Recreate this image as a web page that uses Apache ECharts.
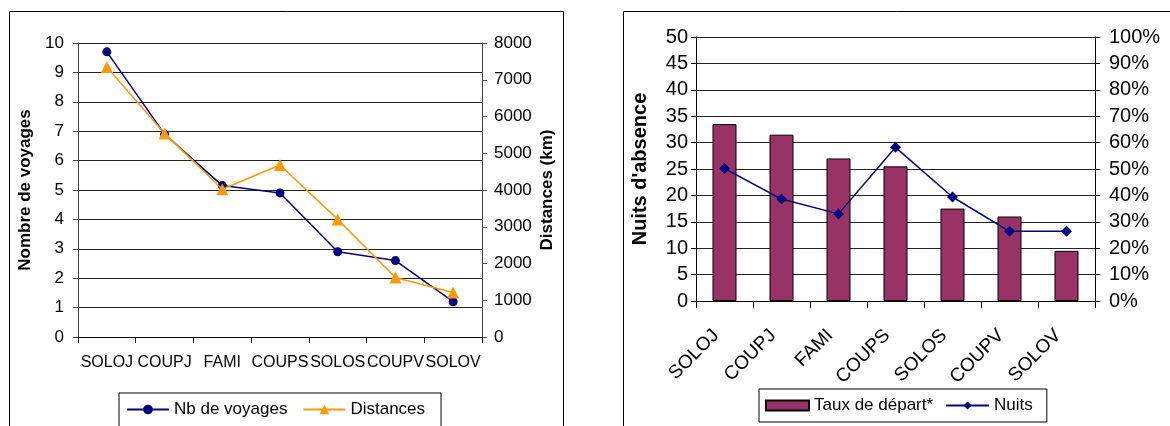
<!DOCTYPE html>
<html>
<head>
<meta charset="utf-8">
<script src="https://cdn.jsdelivr.net/npm/echarts@6/dist/echarts.min.js"></script>
<style>
html,body{margin:0;padding:0;background:#fff;}
#chart{width:1170px;height:426px;}
</style>
</head>
<body>
<div id="chart"></div>
<script>
// ---- Data ----
var categories = ['SOLOJ', 'COUPJ', 'FAMI', 'COUPS', 'SOLOS', 'COUPV', 'SOLOV'];
var nbVoyages = [9.7, 6.9, 5.15, 4.9, 2.9, 2.6, 1.2];
var distances = [7350, 5540, 4020, 4680, 3200, 1620, 1210];
var tauxDepart = [67, 63, 54, 51, 35, 32, 19];
var nuits = [25.1, 19.3, 16.5, 29.1, 19.7, 13.2, 13.2];

var FONT = '"Liberation Sans", Arial, sans-serif';
var chart = echarts.init(document.getElementById('chart'), null, {renderer: 'canvas'});

var option = {
  animation: false,
  backgroundColor: '#fff',
  textStyle: {fontFamily: FONT, color: '#000'},
  graphic: [
    {type: 'rect', shape: {x: 9.5, y: 11.5, width: 554, height: 430}, style: {fill: 'none', stroke: '#000', lineWidth: 1}, z: 0},
    {type: 'rect', shape: {x: 623.5, y: 11.5, width: 560, height: 430}, style: {fill: 'none', stroke: '#000', lineWidth: 1}, z: 0}
  ],
  grid: [
    {left: 78, top: 43, width: 404, height: 294, containLabel: false},
    {left: 696, top: 37, width: 399, height: 264, containLabel: false}
  ],
  legend: [
    {
      left: 119, top: 393, orient: 'horizontal',
      data: ['Nb de voyages', 'Distances'],
      borderColor: '#000', borderWidth: 1, borderRadius: 0,
      padding: [8, 16, 12, 7], itemGap: 15, itemWidth: 42, itemHeight: 12,
      textStyle: {fontFamily: FONT, fontSize: 17, color: '#000'}
    },
    {
      left: 759, top: 389, orient: 'horizontal',
      data: [{name: 'Taux de départ*', icon: 'rect'}, 'Nuits'],
      borderColor: '#000', borderWidth: 1, borderRadius: 0,
      padding: [8, 14, 8, 6], itemGap: 12, itemWidth: 43, itemHeight: 10,
      textStyle: {fontFamily: FONT, fontSize: 17, color: '#000'}
    }
  ],
  xAxis: [
    {
      type: 'category', gridIndex: 0, data: categories, boundaryGap: true,
      axisLine: {lineStyle: {color: '#000', width: 1}},
      axisTick: {show: true, alignWithLabel: false, interval: 0, length: 6, lineStyle: {color: '#000'}},
      axisLabel: {interval: 0, fontSize: 16, margin: 18, color: '#000', fontFamily: FONT, hideOverlap: false}
    },
    {
      type: 'category', gridIndex: 1, data: categories, boundaryGap: true,
      axisLine: {lineStyle: {color: '#000', width: 1}},
      axisTick: {show: true, alignWithLabel: false, interval: 0, length: 7, lineStyle: {color: '#000'}},
      axisLabel: {interval: 0, fontSize: 19, margin: 23, rotate: 45, padding: [0, 12, 0, 0], color: '#000', fontFamily: FONT}
    }
  ],
  yAxis: [
    {
      type: 'value', gridIndex: 0, min: 0, max: 10, interval: 1, position: 'left',
      name: 'Nombre de voyages', nameLocation: 'middle', nameRotate: 90, nameGap: 44,
      nameTextStyle: {fontFamily: FONT, fontSize: 17, fontWeight: 'bold', color: '#000'},
      axisLine: {show: true, lineStyle: {color: '#444'}},
      axisTick: {show: true, length: 5, lineStyle: {color: '#444'}},
      axisLabel: {fontSize: 17, margin: 14, color: '#000', fontFamily: FONT},
      splitLine: {show: true, lineStyle: {color: '#222', width: 1}}
    },
    {
      type: 'value', gridIndex: 0, min: 0, max: 8000, interval: 1000, position: 'right',
      name: 'Distances (km)', nameLocation: 'middle', nameRotate: 90, nameGap: 57,
      nameTextStyle: {fontFamily: FONT, fontSize: 17, fontWeight: 'bold', color: '#000'},
      axisLine: {show: true, lineStyle: {color: '#444'}},
      axisTick: {show: true, length: 5, lineStyle: {color: '#444'}},
      axisLabel: {fontSize: 17, margin: 12, color: '#000', fontFamily: FONT, formatter: function (v) { return String(v); }},
      splitLine: {show: false}
    },
    {
      type: 'value', gridIndex: 1, min: 0, max: 50, interval: 5, position: 'left',
      name: "Nuits d'absence", nameLocation: 'middle', nameRotate: 90, nameGap: 46,
      nameTextStyle: {fontFamily: FONT, fontSize: 20, fontWeight: 'bold', color: '#000'},
      axisLine: {show: true, lineStyle: {color: '#000'}},
      axisTick: {show: true, length: 5, lineStyle: {color: '#000'}},
      axisLabel: {fontSize: 20, margin: 8, color: '#000', fontFamily: FONT},
      splitLine: {show: true, lineStyle: {color: '#222', width: 1}}
    },
    {
      type: 'value', gridIndex: 1, min: 0, max: 100, interval: 10, position: 'right',
      axisLine: {show: true, lineStyle: {color: '#000'}},
      axisTick: {show: true, length: 5, lineStyle: {color: '#000'}},
      axisLabel: {fontSize: 20, margin: 14, color: '#000', fontFamily: FONT, formatter: '{value}%'},
      splitLine: {show: false}
    }
  ],
  series: [
    {
      name: 'Nb de voyages', type: 'line', xAxisIndex: 0, yAxisIndex: 0, data: nbVoyages,
      symbol: 'circle', symbolSize: 9,
      lineStyle: {color: '#000080', width: 1.5},
      itemStyle: {color: '#000080'}, z: 3
    },
    {
      name: 'Distances', type: 'line', xAxisIndex: 0, yAxisIndex: 1, data: distances,
      symbol: 'triangle', symbolSize: 12,
      lineStyle: {color: '#FF9900', width: 1.5},
      itemStyle: {color: '#FF9900'}, z: 4
    },
    {
      name: 'Taux de départ*', type: 'bar', xAxisIndex: 1, yAxisIndex: 3, data: tauxDepart,
      barWidth: 24,
      itemStyle: {color: '#993366', borderColor: '#000', borderWidth: 1}, z: 2
    },
    {
      name: 'Nuits', type: 'line', xAxisIndex: 1, yAxisIndex: 2, data: nuits,
      symbol: 'diamond', symbolSize: 11,
      lineStyle: {color: '#000080', width: 1.5},
      itemStyle: {color: '#000080'}, z: 5
    }
  ]
};
chart.setOption(option);
</script>
</body>
</html>
